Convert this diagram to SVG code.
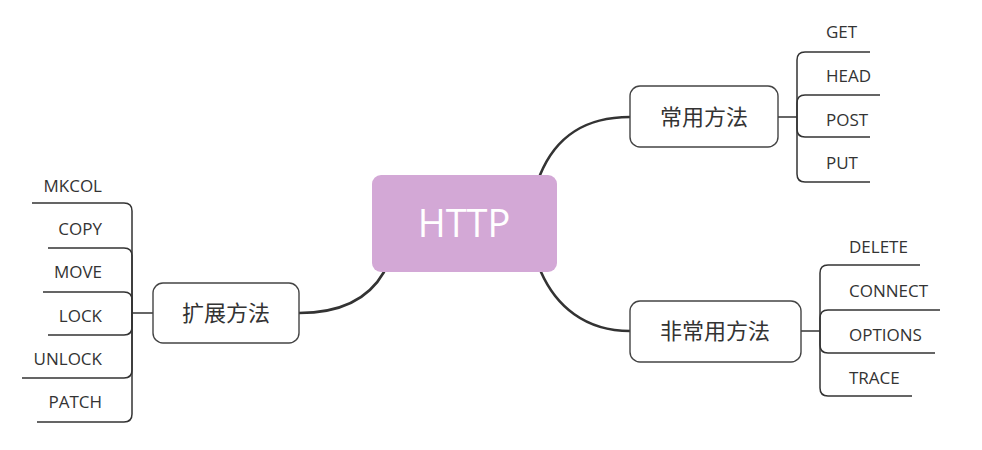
<svg xmlns="http://www.w3.org/2000/svg" width="982" height="450" viewBox="0 0 982 450">
<style>
.box{fill:#fff;stroke:#444;stroke-width:1.4}
.main{fill:none;stroke:#333;stroke-width:2.6;stroke-linecap:round}
.br{fill:none;stroke:#333;stroke-width:1.5}
.leaf{font-family:"Open Sans","Noto Sans",sans-serif;font-size:17px;fill:#333}
.cn{font-family:"Noto Sans CJK SC","Open Sans",sans-serif;font-size:22px;fill:#333;text-anchor:middle}
</style>
<rect width="982" height="450" fill="#fff"/>
<g id="connectors">
<path class="main" d="M540,175 C556,136 585,117 630,117"/>
<path class="main" d="M541,272 C556,306 585,331 630,331"/>
<path class="main" d="M384,272 C368,300 340,313 299,313"/>
<path class="br" d="M778,117 H797"/>
<path class="br" d="M797,117 V60 Q797,52 805,52 H870"/>
<path class="br" d="M797,117 V103 Q797,95 805,95 H880"/>
<path class="br" d="M797,117 V129 Q797,137 805,137 H870"/>
<path class="br" d="M797,117 V174 Q797,182 805,182 H870"/>
<path class="br" d="M801,331 H820"/>
<path class="br" d="M820,331 V273 Q820,265 828,265 H920"/>
<path class="br" d="M820,331 V318 Q820,310 828,310 H940"/>
<path class="br" d="M820,331 V345 Q820,353 828,353 H935"/>
<path class="br" d="M820,331 V388 Q820,396 828,396 H912"/>
<path class="br" d="M153,313 H132"/>
<path class="br" d="M132,313 V211 Q132,203 124,203 H32"/>
<path class="br" d="M132,313 V256 Q132,248 124,248 H48"/>
<path class="br" d="M132,313 V300 Q132,292 124,292 H43"/>
<path class="br" d="M132,313 V327 Q132,335 124,335 H48"/>
<path class="br" d="M132,313 V370 Q132,378 124,378 H22"/>
<path class="br" d="M132,313 V414 Q132,422 124,422 H37"/>
</g>
<g id="http">
<rect x="372" y="175" width="185" height="97" rx="9" fill="#d3a8d6"/>
<text x="464" y="237" text-anchor="middle" font-family="Open Sans, sans-serif" font-size="38" fill="#fff">HTTP</text>
</g>
<g id="common">
<rect class="box" x="630" y="86" width="148" height="61" rx="10"/>
<text class="cn" x="704" y="125">常用方法</text>
</g>
<g id="uncommon">
<rect class="box" x="630" y="301" width="171" height="61" rx="10"/>
<text class="cn" x="715" y="339">非常用方法</text>
</g>
<g id="ext">
<rect class="box" x="153" y="283" width="146" height="60" rx="10"/>
<text class="cn" x="226" y="321">扩展方法</text>
</g>
<g id="get"><text class="leaf" x="826" y="38">GET</text></g>
<g id="head"><text class="leaf" x="826" y="82">HEAD</text></g>
<g id="post"><text class="leaf" x="826" y="126">POST</text></g>
<g id="put"><text class="leaf" x="826" y="169">PUT</text></g>
<g id="delete"><text class="leaf" x="849" y="253">DELETE</text></g>
<g id="connect"><text class="leaf" x="849" y="297">CONNECT</text></g>
<g id="options"><text class="leaf" x="849" y="341">OPTIONS</text></g>
<g id="trace"><text class="leaf" x="849" y="384">TRACE</text></g>
<g id="mkcol"><text class="leaf" x="102" y="192" text-anchor="end">MKCOL</text></g>
<g id="copy"><text class="leaf" x="102" y="235" text-anchor="end">COPY</text></g>
<g id="move"><text class="leaf" x="102" y="278" text-anchor="end">MOVE</text></g>
<g id="lock"><text class="leaf" x="102" y="322" text-anchor="end">LOCK</text></g>
<g id="unlock"><text class="leaf" x="102" y="365" text-anchor="end">UNLOCK</text></g>
<g id="patch"><text class="leaf" x="102" y="408" text-anchor="end">PATCH</text></g>
</svg>
